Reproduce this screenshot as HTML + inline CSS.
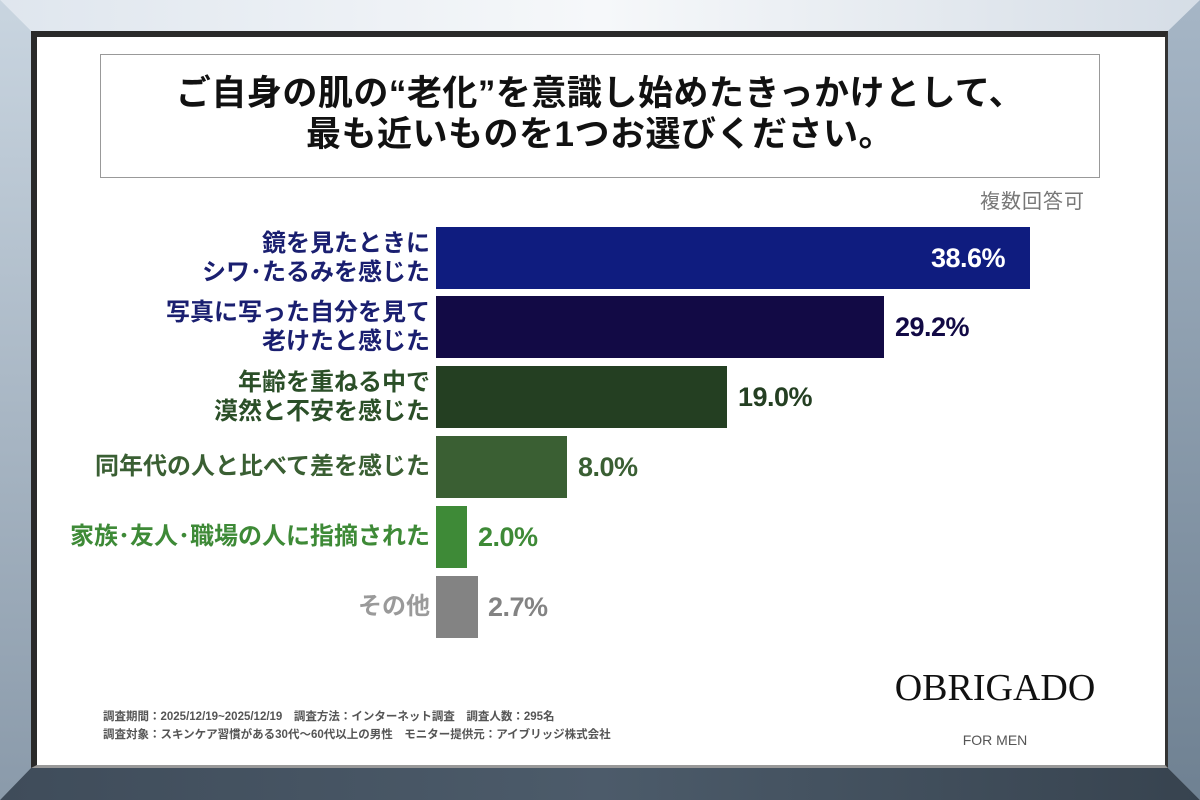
<!DOCTYPE html>
<html><head><meta charset="utf-8"><style>
*{margin:0;padding:0;box-sizing:border-box}
body{width:1200px;height:800px;position:relative;overflow:hidden;font-family:"Liberation Sans","Noto Sans CJK JP",sans-serif;background:#c8d2dc}
.abs{position:absolute}
.lab{position:absolute;right:770px;text-align:right;font-weight:bold;font-size:24px;line-height:29px;white-space:nowrap}
.bar{position:absolute;left:436px;height:62px}
.val{position:absolute;font-weight:bold;font-size:27px;line-height:62px;letter-spacing:-0.5px}
</style></head><body>
<svg class="abs" style="left:0;top:0" width="1200" height="800">
<defs>
<linearGradient id="t" x1="0" x2="1"><stop offset="0" stop-color="#dfe6ee"/><stop offset=".5" stop-color="#f6f8fa"/><stop offset="1" stop-color="#d5dde6"/></linearGradient>
<linearGradient id="l" x1="0" x2="0" y1="0" y2="1"><stop offset="0" stop-color="#c9d5e0"/><stop offset="1" stop-color="#8a9aaa"/></linearGradient>
<linearGradient id="r" x1="0" x2="0" y1="0" y2="1"><stop offset="0" stop-color="#a6b6c6"/><stop offset="1" stop-color="#6f8192"/></linearGradient>
<linearGradient id="b" x1="0" x2="1"><stop offset="0" stop-color="#3f4c5a"/><stop offset=".5" stop-color="#4c5b6a"/><stop offset="1" stop-color="#37434f"/></linearGradient>
</defs>
<polygon points="0,0 1200,0 1168,31 31,31" fill="url(#t)"/>
<polygon points="0,0 31,31 31,768 0,800" fill="url(#l)"/>
<polygon points="1200,0 1200,800 1168,768 1168,31" fill="url(#r)"/>
<polygon points="0,800 31,768 1168,768 1200,800" fill="url(#b)"/>
</svg>
<div class="abs" style="left:31px;top:31px;width:1137px;height:737px;background:#fff;border-top:6px solid #2a2a2a;border-left:6px solid #2a2a2a;border-right:3px solid #333;border-bottom:3px solid #999"></div>
<div class="abs" style="left:100px;top:54px;width:1000px;height:124px;border:1.5px solid #999;text-align:center;font-weight:bold;font-size:35px;line-height:41px;padding-top:18px;color:#111;letter-spacing:0.5px">ご自身の肌の“老化”を意識し始めたきっかけとして、<br>最も近いものを1つお選びください。</div>
<div class="abs" style="left:980px;top:185px;font-size:20px;color:#777;letter-spacing:1px">複数回答可</div>

<div class="lab" style="top:229px;color:#1a1f70">鏡を見たときに<br>シワ･たるみを感じた</div>
<div class="bar" style="top:227px;width:594px;background:#0f1c7f"></div>
<div class="val" style="top:227px;left:931px;color:#fff">38.6%</div>

<div class="lab" style="top:298px;color:#1a1f70">写真に写った自分を見て<br>老けたと感じた</div>
<div class="bar" style="top:296px;width:448px;background:#120a45"></div>
<div class="val" style="top:296px;left:895px;color:#120a45">29.2%</div>

<div class="lab" style="top:368px;color:#2b4f28">年齢を重ねる中で<br>漠然と不安を感じた</div>
<div class="bar" style="top:366px;width:291px;background:#243f22"></div>
<div class="val" style="top:366px;left:738px;color:#243f22">19.0%</div>

<div class="lab" style="top:452px;color:#3a5f33">同年代の人と比べて差を感じた</div>
<div class="bar" style="top:436px;width:131px;background:#3a5f33"></div>
<div class="val" style="top:436px;left:578px;color:#3a5f33">8.0%</div>

<div class="lab" style="top:522px;color:#3e8a37">家族･友人･職場の人に指摘された</div>
<div class="bar" style="top:506px;width:31px;background:#3e8a37"></div>
<div class="val" style="top:506px;left:478px;color:#3e8a37">2.0%</div>

<div class="lab" style="top:592px;color:#9a9a9a">その他</div>
<div class="bar" style="top:576px;width:42px;background:#838383"></div>
<div class="val" style="top:576px;left:488px;color:#838383">2.7%</div>

<div class="abs" style="left:103px;top:708px;font-size:11.5px;line-height:18px;color:#555;font-weight:bold;white-space:nowrap">調査期間：2025/12/19~2025/12/19　調査方法：インターネット調査　調査人数：295名<br>調査対象：スキンケア習慣がある30代～60代以上の男性　モニター提供元：アイブリッジ株式会社</div>
<div class="abs" style="left:880px;top:666px;width:230px;text-align:center;font-family:'Liberation Serif',serif;font-size:38px;letter-spacing:0px;color:#111">OBRIGADO</div>
<div class="abs" style="left:950px;top:732px;width:90px;text-align:center;font-size:14px;color:#555">FOR MEN</div>
</body></html>
